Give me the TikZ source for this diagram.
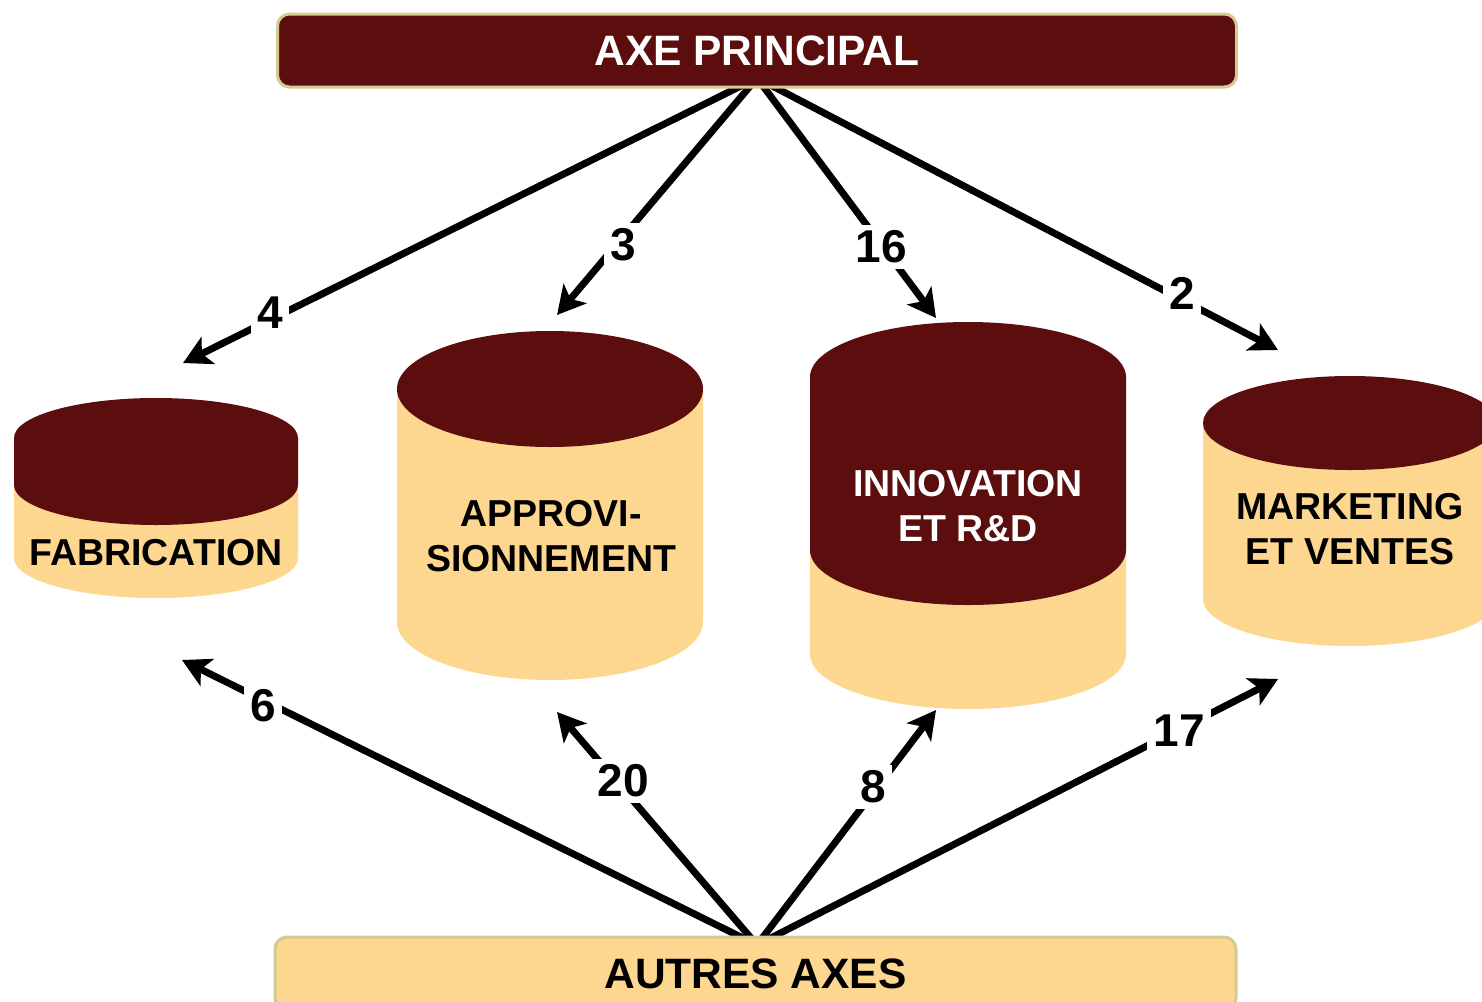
\documentclass[tikz,border=0pt]{standalone}
\usepackage{fontspec}
\setmainfont{Liberation Sans}
\usetikzlibrary{arrows.meta}
\definecolor{axedark}{HTML}{5C0E0F}
\definecolor{axesand}{HTML}{FDD68F}
\definecolor{axerim}{HTML}{D3CB92}
\newcommand\cylshape[6]{% cx, rx, ry, y top centre, y dark centre, y bottom centre
  \fill[axesand] (#1-#2,#4) -- (#1-#2,#6)
     arc[start angle=180,end angle=360,x radius=#2pt,y radius=#3pt]
     -- (#1+#2,#4) -- cycle;
  \fill[axedark] (#1-#2,#4)
     arc[start angle=180,end angle=0,x radius=#2pt,y radius=#3pt]
     -- (#1+#2,#5)
     arc[start angle=0,end angle=-180,x radius=#2pt,y radius=#3pt]
     -- cycle;}
\begin{document}
\begin{tikzpicture}[x=1pt,y=-1pt,
  axebox/.style={draw=axerim, line width=3pt, rounded corners=12pt,
     minimum width=959pt, minimum height=73pt, inner sep=0pt,
     font=\bfseries\fontsize{42.5}{42.5}\selectfont},
  conn/.style={line width=7pt, -{Stealth[length=28pt,width=30pt,inset=7pt]}},
  num/.style={fill=white, inner sep=6pt, font=\bfseries\fontsize{46}{46}\selectfont},
  cyltext/.style={align=center, inner sep=0pt, font=\bfseries\fontsize{37.5}{45}\selectfont}]
\useasboundingbox (0,0) rectangle (1482,1001);
\clip (0,0) rectangle (1482,1001);

% connector ends
\coordinate (src) at (757,78);
\coordinate (snk) at (757,945);
\coordinate (t4) at (183,363);
\coordinate (t3) at (557,315);
\coordinate (t16) at (936,318);
\coordinate (t2) at (1278,350);
\coordinate (t6) at (182,660);
\coordinate (t20) at (557,712);
\coordinate (t8) at (936,710);
\coordinate (t17) at (1278,679);

\draw[conn] (src) -- (t4);
\draw[conn] (src) -- (t3);
\draw[conn] (src) -- (t16);
\draw[conn] (src) -- (t2);
\draw[conn] (snk) -- (t6);
\draw[conn] (snk) -- (t20);
\draw[conn] (snk) -- (t8);
\draw[conn] (snk) -- (t17);

\node[num] (n4) at (270,313) {4};
\node[num] (n3) at (623,245) {3};
\node[num] (n16) at (881,247) {16};
\node[num] (n2) at (1182,293) {2};
\node[num] (n6) at (263,706) {6};
\node[num] (n20) at (623,781) {20};
\node[num] (n8) at (873,787) {8};
\node[num] (n17) at (1179,731) {17};

% boxes
\node[axebox, fill=axedark, text=white] (axe) at (757,50.5) {AXE PRINCIPAL};
\node[axebox, fill=axesand, text=black, minimum width=961pt] (autres) at (755.5,973.5) {AUTRES AXES};

% cylinders
\cylshape{156}{142}{40}{438}{485}{558}
\cylshape{550}{153}{58}{389}{389}{622}
\cylshape{968}{158}{55}{377}{550}{654}
\cylshape{1350}{147}{47}{423}{423}{599}

\node[cyltext, text=black] (fab) at (156,553) {FABRICATION};
\node[cyltext, text=black] (appro) at (551,536) {APPROVI-\\SIONNEMENT};
\node[cyltext, text=white] (inno) at (968,506) {INNOVATION\\ET R\&D};
\node[cyltext, text=black] (mark) at (1350,529) {MARKETING\\ET VENTES};
\end{tikzpicture}
\end{document}
